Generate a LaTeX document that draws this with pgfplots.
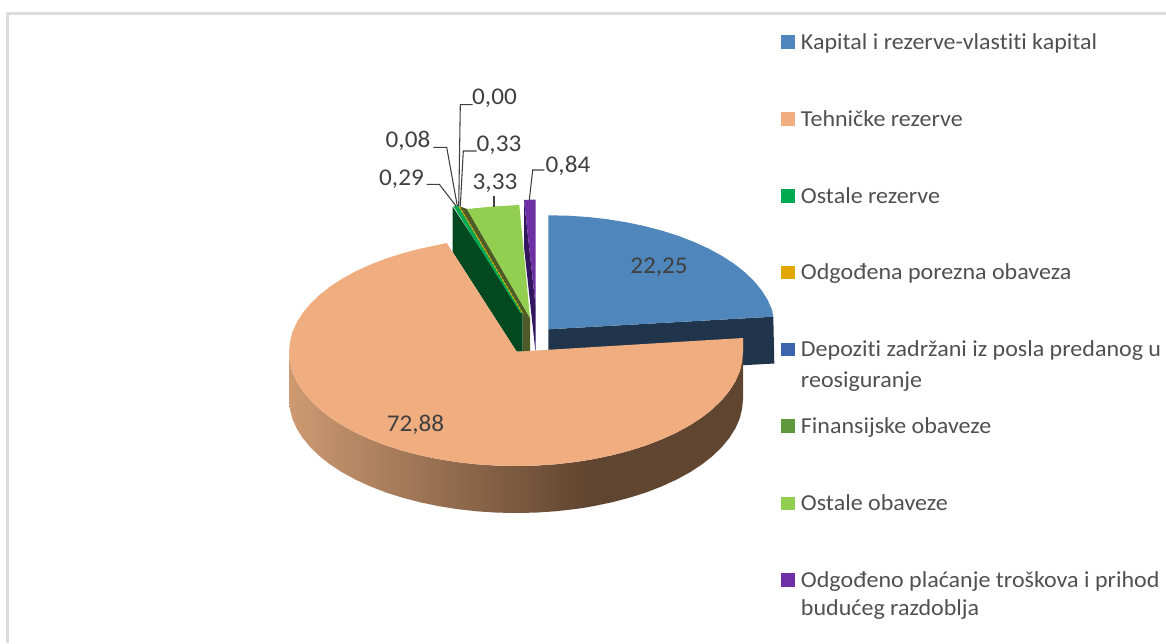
\documentclass[border=0pt]{standalone}
\usepackage{fontspec}
\setmainfont[Ligatures=NoCommon,FakeStretch=1.05]{Carlito}
\usepackage{pgfplots}
\pgfplotsset{compat=1.18}
\definecolor{blueface}{HTML}{4F86BB}
\definecolor{bluewall}{HTML}{20354B}
\definecolor{peach}{HTML}{F0AE80}
\definecolor{peachlight}{HTML}{CE9A72}
\definecolor{peachdark}{HTML}{604530}
\definecolor{purpleface}{HTML}{6F30A5}
\definecolor{purplewall}{HTML}{33175E}
\definecolor{lightgreen}{HTML}{92CF50}
\definecolor{olive}{HTML}{4E5B27}
\definecolor{darkgreen}{HTML}{04481F}
\definecolor{brightgreen}{HTML}{00A850}
\definecolor{amber}{HTML}{E0A800}
\definecolor{depozit}{HTML}{3B64AD}
\definecolor{finans}{HTML}{60993D}
\definecolor{frame}{HTML}{DCDCDC}
\definecolor{lbl}{HTML}{404040}
\definecolor{legtxt}{HTML}{505050}

\newcommand{\lab}[2]{\node[lbl, inner sep=0pt, anchor=center, yshift=-1.5pt] at (axis cs:#1) {\fontsize{18}{20}\selectfont #2};}
\newcommand{\legline}[2]{\node[legtxt, inner sep=0pt, anchor=west, yshift=-1.5pt] at (axis cs:800.7,#1) {\fontsize{17.15}{19}\selectfont\strut #2};}
\newcommand{\leg}[3]{%
  \addplot[fill=#2, draw=none] coordinates {(781.3,#1-6.7) (794.7,#1-6.7) (794.7,#1+6.7) (781.3,#1+6.7)};
  \legline{#1}{#3}}

\begin{document}
\begin{tikzpicture}
\useasboundingbox (0,0) rectangle (874.5pt,482.25pt);
\begin{axis}[
  scale only axis, width=874.5pt, height=482.25pt,
  xmin=0, xmax=1166, ymin=0, ymax=643,
  y dir=reverse, hide axis, clip=false,
]
% frame
\addplot[frame, line width=2.2pt] coordinates {(1166,13.5) (7.5,13.5) (7.5,643)};

% Kapital i rezerve, 22,25
\addplot[fill=bluewall, draw=none] coordinates {(548.3,329.3) (773.3,316.7) (774.3,363.5) (548.3,376)};
\addplot[fill=blueface, draw=none] coordinates {
  (548.3,329.3) (548.3,215.3) (568.1,215.7) (587.7,217) (607.1,219.2) (625.9,222.2)
  (644.2,226) (661.8,230.6) (678.5,235.9) (694.2,242) (708.8,248.7) (722.2,256)
  (734.3,263.9) (744.9,272.3) (754,281.1) (761.6,290.3) (767.6,299.8) (771.9,309.5) (773.3,316.7)};

% Odgodjeno placanje, 0,84
\addplot[fill=purplewall, draw=none] coordinates {(524,200) (535.5,305) (535.5,352) (524,247)};
\addplot[fill=purpleface, draw=none] coordinates {(524,200) (535.5,199.5) (535.5,305)};

% Ostale obaveze, 3,33
\addplot[fill=olive, draw=none] coordinates {(459,206) (467,209) (530,318) (530,352) (522.7,352) (522.7,313)};
\addplot[fill=lightgreen, draw=none] coordinates {(467,209) (493,206.5) (519.3,205) (530,318)};

% Ostale rezerve, 0,29 and the thin slices beside it
\addplot[fill=darkgreen, draw=none] coordinates {(452.7,206.7) (452.7,252) (516.7,351.7) (522.7,351.7) (522.7,313)};
\addplot[fill=brightgreen, draw=none] coordinates {(453.3,206) (458.5,206) (522.7,313) (520.5,313)};
\addplot[amber, line width=0.9pt, dash pattern=on 2pt off 1pt] coordinates {(459.5,207) (523,314)};

% Tehnicke rezerve, 72,88: wall, left part shaded, right part flat
\addplot[fill=peachdark, draw=none] coordinates {
  (743,338) (743,352) (742.1,361.9) (739.6,371.8) (735.3,381.5) (729.3,391) (721.7,400.2)
  (712.6,409) (702,417.4) (689.9,425.3) (676.5,432.6) (661.9,439.3) (646.2,445.4)
  (629.5,450.7) (611.9,455.3) (593.6,459.1) (586.1,460.4)
  (586.1,507.4) (593.6,506.1) (611.9,502.3) (629.5,497.7) (646.2,492.4) (661.9,486.3)
  (676.5,479.6) (689.9,472.3) (702,464.4) (712.6,456) (721.7,447.2) (729.3,438)
  (735.3,428.5) (739.6,418.8) (742.1,408.9) (743,399) (743,385)};
\addplot[left color=peachlight, right color=peachdark, draw=none] coordinates {
  (586.6,460.4) (574.8,462.1) (555.4,464.3) (535.8,465.6) (516,466) (496.2,465.6) (476.6,464.3)
  (457.2,462.1) (438.4,459.1) (420.1,455.3) (402.5,450.7) (385.8,445.4) (370.1,439.3)
  (355.5,432.6) (342.1,425.3) (330,417.4) (319.4,409) (310.3,400.2) (302.7,391)
  (296.7,381.5) (292.4,371.8) (289.9,361.9) (289,352)
  (289,399) (289.9,408.9) (292.4,418.8) (296.7,428.5) (302.7,438) (310.3,447.2)
  (319.4,456) (330,464.4) (342.1,472.3) (355.5,479.6) (370.1,486.3) (385.8,492.4)
  (402.5,497.7) (420.1,502.3) (438.4,506.1) (457.2,509.1) (476.6,511.3) (496.2,512.6)
  (516,513) (535.8,512.6) (555.4,511.3) (574.8,509.1) (586.6,507.4)};
\addplot[fill=peach, draw=none] coordinates {
  (516.7,351.7) (743,338) (743,352) (742.1,361.9) (739.6,371.8) (735.3,381.5) (729.3,391)
  (721.7,400.2) (712.6,409) (702,417.4) (689.9,425.3) (676.5,432.6) (661.9,439.3)
  (646.2,445.4) (629.5,450.7) (611.9,455.3) (593.6,459.1) (574.8,462.1) (555.4,464.3)
  (535.8,465.6) (516,466) (496.2,465.6) (476.6,464.3) (457.2,462.1) (438.4,459.1)
  (420.1,455.3) (402.5,450.7) (385.8,445.4) (370.1,439.3) (355.5,432.6) (342.1,425.3)
  (330,417.4) (319.4,409) (310.3,400.2) (302.7,391) (296.7,381.5) (292.4,371.8)
  (289.9,361.9) (289,352) (289.9,342.1) (292.4,332.2) (296.7,322.5) (302.7,313)
  (310.3,303.8) (319.4,295) (330,286.6) (342.1,278.7) (355.5,271.4) (370.1,264.7)
  (385.8,258.6) (402.5,253.3) (420.1,248.7) (446.7,243)};

% leader lines
\addplot[lbl, line width=0.8pt] coordinates {(529.3,200) (532.7,170) (544.3,170)};
\addplot[lbl, line width=0.8pt] coordinates {(494,196) (494,206.5)};
\addplot[lbl, line width=0.8pt] coordinates {(460.3,206) (463.3,151) (476.7,151)};
\addplot[lbl, line width=0.8pt] coordinates {(458.7,206) (460.3,104.7) (472.7,104.7)};
\addplot[lbl, line width=0.8pt] coordinates {(457.3,206) (446.7,147.3) (433.3,147.3)};
\addplot[lbl, line width=0.8pt] coordinates {(456,206) (439.3,184.3) (426.7,184.3)};

% value labels
\lab{494.5,96.7}{0,00}
\lab{499,143.3}{0,33}
\lab{568,164}{0,84}
\lab{495,181.7}{3,33}
\lab{408,139}{0,08}
\lab{401.5,177.7}{0,29}
\lab{659,265}{22,25}
\lab{415.5,423}{72,88}

% legend
\leg{42}{blueface}{Kapital i rezerve-vlastiti kapital}
\leg{119}{peach}{Tehničke rezerve}
\leg{196}{brightgreen}{Ostale rezerve}
\leg{272.5}{amber}{Odgođena porezna obaveza}
\leg{349.5}{depozit}{Depoziti zadržani iz posla predanog u}
\legline{380}{reosiguranje}
\leg{426}{finans}{Finansijske obaveze}
\leg{503.7}{lightgreen}{Ostale obaveze}
\leg{580}{purpleface}{Odgođeno plaćanje troškova i prihod}
\legline{608}{budućeg razdoblja}
\end{axis}
\end{tikzpicture}
\end{document}
